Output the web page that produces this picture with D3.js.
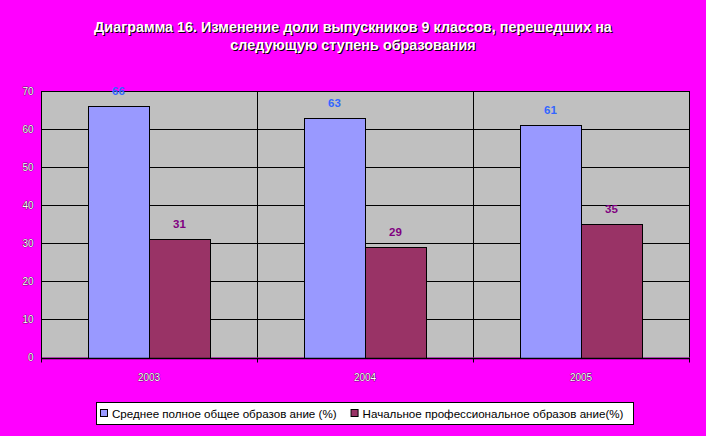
<!DOCTYPE html>
<html><head><meta charset="utf-8">
<script src="https://cdn.jsdelivr.net/npm/d3@7"></script>
<style>
html,body{margin:0;padding:0;background:#ff00ff;}
svg{display:block;}
</style></head>
<body>
<svg id="c" width="706" height="436"></svg>
<script>
const categories = ["2003", "2004", "2005"];
const seriesNames = ["Среднее полное общее образов ание (%)", "Начальное профессиональное образов ание(%)"];
const secondary = [66, 63, 61];
const vocational = [31, 29, 35];
const yTicks = [0, 10, 20, 30, 40, 50, 60, 70];
const titleLines = ["Диаграмма 16. Изменение доли выпускников 9 классов, перешедших на", "следующую ступень образования"];

const colors = ["#9999ff", "#993366"];
const labelColors = ["#3366ff", "#800080"];
const series = [secondary, vocational];

const svg = d3.select("#c");
const L = 41, R = 689, T = 91, B = 357.5;

// title
const tg = svg.append("g");
titleLines.forEach((t, i) => {
  [["#000", 1, 1], ["#fff", 0, 0]].forEach(([c, dx, dy]) => {
    tg.append("text").attr("x", 353 + dx).attr("y", 32 + i * 18 + dy)
      .attr("text-anchor", "middle").attr("fill", c)
      .attr("font-family", "Arial, Liberation Sans, sans-serif")
      .attr("font-size", 14.4).attr("font-weight", "bold").text(t);
  });
});

const x = d3.scaleBand().domain(categories).range([L, R]);
const x1 = d3.scaleBand().domain([0, 1]).range([0, x.bandwidth()]).paddingInner(0).paddingOuter(0.77);
const y = d3.scaleLinear().domain([0, 70]).range([B, T]);

svg.append("rect").attr("x", L).attr("y", T).attr("width", R - L).attr("height", B - T).attr("fill", "#c0c0c0");

// gridlines
svg.append("g").selectAll("line").data(yTicks.filter(d => d > 0)).join("line")
  .attr("x1", L).attr("x2", R).attr("y1", d => Math.round(y(d)) + 0.5).attr("y2", d => Math.round(y(d)) + 0.5)
  .attr("stroke", "#000").attr("stroke-width", 1);
// vertical category lines
svg.append("g").selectAll("line").data(categories.slice(1).concat(["end"])).join("line")
  .attr("x1", d => d === "end" ? R + 0.5 : Math.round(x(d)) + 0.5)
  .attr("x2", d => d === "end" ? R + 0.5 : Math.round(x(d)) + 0.5)
  .attr("y1", T).attr("y2", B).attr("stroke", "#000");

// bars
series.forEach((s, si) => {
  svg.append("g").selectAll("rect").data(s).join("rect")
    .attr("x", (d, i) => Math.round(x(categories[i]) + x1(si)) + 0.5)
    .attr("y", d => Math.round(y(d)) + 0.5)
    .attr("width", Math.round(x1.bandwidth()))
    .attr("height", d => Math.round(B) - Math.round(y(d)))
    .attr("fill", colors[si]).attr("stroke", "#000").attr("stroke-width", 1);
  svg.append("g").selectAll("text").data(s).join("text")
    .attr("x", (d, i) => x(categories[i]) + x1(si) + x1.bandwidth() / 2)
    .attr("y", d => y(d) - 11)
    .attr("text-anchor", "middle").attr("fill", labelColors[si])
    .attr("font-family", "Arial, Liberation Sans, sans-serif")
    .attr("font-size", 11.5).attr("font-weight", "bold").text(d => d);
});

// axes
const yAxis = d3.axisLeft(y).tickValues(yTicks).tickSize(0).tickPadding(8);
const ya = svg.append("g").attr("transform", `translate(${L + 0.5},0)`).call(yAxis);
ya.select(".domain").attr("stroke", "#000").attr("d", `M0,${T}V${B + 5}`);
ya.selectAll(".tick text").attr("fill", "#fff")
  .attr("font-family", "Arial, Liberation Sans, sans-serif").attr("font-size", 10)
  .style("paint-order", "stroke").attr("stroke", "#000").attr("stroke-width", 0.6);

const xAxis = d3.axisBottom(x).tickSize(0).tickPadding(15);
const xa = svg.append("g").attr("transform", `translate(0,${Math.round(B) + 0.5})`).call(xAxis);
xa.select(".domain").attr("stroke", "#000").attr("stroke-width", 1.5).attr("d", `M${L},0H${R + 1}`);
xa.selectAll(".tick text").attr("fill", "#fff")
  .attr("font-family", "Arial, Liberation Sans, sans-serif").attr("font-size", 10)
  .style("paint-order", "stroke").attr("stroke", "#000").attr("stroke-width", 0.6);
// category boundary ticks
xa.append("g").selectAll("line").data(categories.slice(1).concat(["end"])).join("line")
  .attr("x1", d => d === "end" ? R + 0.5 : Math.round(x(d)) + 0.5)
  .attr("x2", d => d === "end" ? R + 0.5 : Math.round(x(d)) + 0.5)
  .attr("y1", 0).attr("y2", 4).attr("stroke", "#000");

// legend
const lg = svg.append("g");
lg.append("rect").attr("x", 96.5).attr("y", 402.5).attr("width", 537).attr("height", 22)
  .attr("fill", "#fff").attr("stroke", "#000");
let lx = 100;
seriesNames.forEach((n, i) => {
  lg.append("rect").attr("x", lx + 0.5).attr("y", 409.5).attr("width", 7).attr("height", 7)
    .attr("fill", colors[i]).attr("stroke", "#000");
  const t = lg.append("text").attr("x", lx + 12).attr("y", 418)
    .attr("font-family", "Arial, Liberation Sans, sans-serif").attr("font-size", 11.6)
    .attr("fill", "#000").text(n);
  lx += 12 + t.node().getComputedTextLength() + 14;
});
</script>
</body></html>
